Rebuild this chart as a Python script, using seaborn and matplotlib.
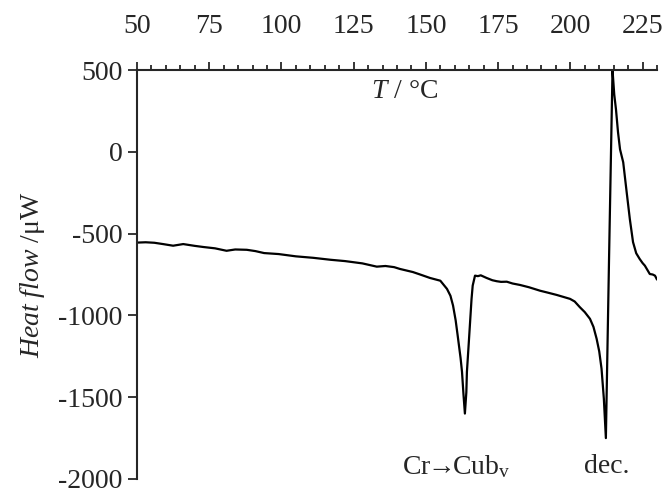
import matplotlib
matplotlib.use("Agg")
import matplotlib.pyplot as plt
from matplotlib.ticker import MultipleLocator
import seaborn as sns

# DSC trace
temp = [50, 53, 56, 59, 62.5, 66, 70, 73, 77, 81, 84, 88, 91, 94, 99, 105, 111,
        117, 122, 128, 133, 136, 139, 141, 145.5, 148, 151.4, 155, 157.3, 158.5,
        159.4, 160.3, 161, 162, 162.5, 163, 163.5, 164, 164.2, 164.8, 165.3,
        165.8, 166.2, 167, 168, 169, 171, 173, 174.5, 176, 178, 180, 182.6,
        185.7, 189.5, 192, 195.3, 199.9, 201.5, 203.3, 205, 206.8, 208, 209.1,
        210, 210.8, 211.6, 212.3, 213.4, 214.6, 215.2, 215.8, 216.5, 217.2,
        218.3, 219.5, 220.6, 221.7, 222.8, 224, 225, 225.8, 227.5, 228.5,
        229.3, 230]
heat = [-555, -553, -556, -564, -574, -564, -575, -582, -590, -605, -597, -599,
        -607, -619, -625, -639, -648, -660, -668, -682, -702, -698, -705, -716,
        -735, -750, -771, -788, -838, -880, -940, -1030, -1123, -1260, -1345,
        -1480, -1600, -1470, -1345, -1180, -1040, -900, -818, -757, -760, -755,
        -771, -785, -791, -795, -794, -805, -814, -828, -849, -860, -875, -899,
        -915, -950, -980, -1021, -1070, -1143, -1220, -1326, -1509, -1750, -650,
        500, 350, 259, 120, 15, -64, -247, -412, -552, -620, -655, -680, -696,
        -747, -750, -757, -781]

xticks = [50, 75, 100, 125, 150, 175, 200, 225]
yticks = [-2000, -1500, -1000, -500, 0, 500]

sns.set_style("ticks")
plt.rcParams['font.family'] = ['Liberation Serif', 'DejaVu Serif']
plt.rcParams['mathtext.fontset'] = 'custom'
plt.rcParams['mathtext.rm'] = 'Liberation Serif'
plt.rcParams['mathtext.it'] = 'Liberation Serif:italic'
plt.rcParams['axes.unicode_minus'] = False

fig = plt.figure(figsize=(6.66, 4.93), dpi=100)
ax = fig.add_axes([0.2057, 0.0284, 0.7808, 0.8296])

sns.lineplot(x=temp, y=heat, ax=ax, color='black', linewidth=1.6,
             sort=False, estimator=None)

ax.set_xlim(50, 230)
ax.set_ylim(-2000, 500)
ax.xaxis.tick_top()
ax.set_xticks(xticks)
ax.xaxis.set_minor_locator(MultipleLocator(5))
ax.set_yticks(yticks)

for s in ['bottom', 'right']:
    ax.spines[s].set_visible(False)
for s in ['top', 'left']:
    ax.spines[s].set_linewidth(1.5)

ax.tick_params(axis='x', which='major', direction='out', length=6, width=1.3,
               pad=16, labelsize=20)
ax.tick_params(axis='x', which='minor', direction='out', length=3.5, width=1.3)
ax.tick_params(axis='y', direction='out', length=6.5, width=1.3, labelsize=20,
               pad=4)

ax.set_xlabel('')
ax.set_ylabel(r'$Heat\ flow$ /μW', fontsize=20, labelpad=8)

ax.text(142.7, 369, r'$T$ / °C', fontsize=20, ha='center', va='center')
ax.text(160.5, -1925, r'Cr$\!\!{\rightarrow}\!\!$Cub$_{\mathrm{v}}$', fontsize=20,
        ha='center', va='center')
ax.text(212.7, -1925, 'dec.', fontsize=20, ha='center', va='center')

fig.savefig('out.png', dpi=100)
